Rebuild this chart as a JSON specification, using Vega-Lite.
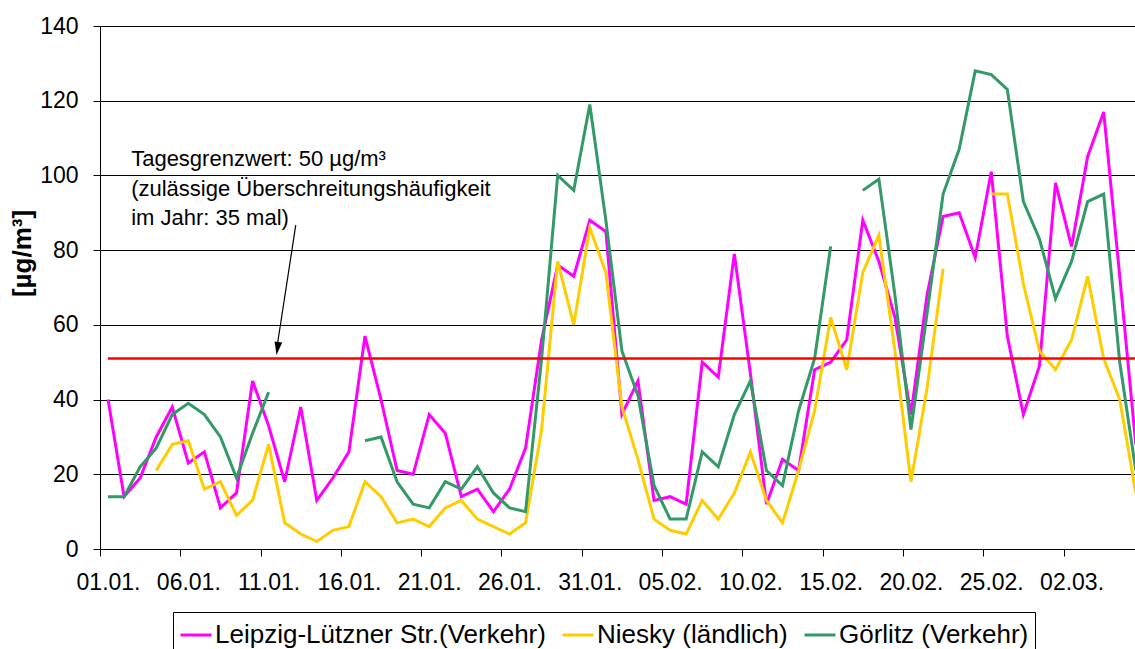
{
  "$schema": "https://vega.github.io/schema/vega-lite/v6.json",
  "width": 1035,
  "height": 523,
  "autosize": {"type": "none"},
  "padding": {"left": 100, "top": 26, "right": 0, "bottom": 100},
  "background": "white",
  "config": {"view": {"stroke": null}, "font": "Liberation Sans"},
  "datasets": {
    "series": [
      {"station": "Leipzig-Lützner Str.(Verkehr)", "day": 0, "value": 40},
      {"station": "Leipzig-Lützner Str.(Verkehr)", "day": 1, "value": 14},
      {"station": "Leipzig-Lützner Str.(Verkehr)", "day": 2, "value": 19},
      {"station": "Leipzig-Lützner Str.(Verkehr)", "day": 3, "value": 30},
      {"station": "Leipzig-Lützner Str.(Verkehr)", "day": 4, "value": 38},
      {"station": "Leipzig-Lützner Str.(Verkehr)", "day": 5, "value": 23},
      {"station": "Leipzig-Lützner Str.(Verkehr)", "day": 6, "value": 26},
      {"station": "Leipzig-Lützner Str.(Verkehr)", "day": 7, "value": 11},
      {"station": "Leipzig-Lützner Str.(Verkehr)", "day": 8, "value": 15},
      {"station": "Leipzig-Lützner Str.(Verkehr)", "day": 9, "value": 45},
      {"station": "Leipzig-Lützner Str.(Verkehr)", "day": 10, "value": 33},
      {"station": "Leipzig-Lützner Str.(Verkehr)", "day": 11, "value": 18},
      {"station": "Leipzig-Lützner Str.(Verkehr)", "day": 12, "value": 38},
      {"station": "Leipzig-Lützner Str.(Verkehr)", "day": 13, "value": 13},
      {"station": "Leipzig-Lützner Str.(Verkehr)", "day": 14, "value": 19},
      {"station": "Leipzig-Lützner Str.(Verkehr)", "day": 15, "value": 26},
      {"station": "Leipzig-Lützner Str.(Verkehr)", "day": 16, "value": 57},
      {"station": "Leipzig-Lützner Str.(Verkehr)", "day": 17, "value": 40},
      {"station": "Leipzig-Lützner Str.(Verkehr)", "day": 18, "value": 21},
      {"station": "Leipzig-Lützner Str.(Verkehr)", "day": 19, "value": 20},
      {"station": "Leipzig-Lützner Str.(Verkehr)", "day": 20, "value": 36},
      {"station": "Leipzig-Lützner Str.(Verkehr)", "day": 21, "value": 31},
      {"station": "Leipzig-Lützner Str.(Verkehr)", "day": 22, "value": 14},
      {"station": "Leipzig-Lützner Str.(Verkehr)", "day": 23, "value": 16},
      {"station": "Leipzig-Lützner Str.(Verkehr)", "day": 24, "value": 10},
      {"station": "Leipzig-Lützner Str.(Verkehr)", "day": 25, "value": 16},
      {"station": "Leipzig-Lützner Str.(Verkehr)", "day": 26, "value": 27},
      {"station": "Leipzig-Lützner Str.(Verkehr)", "day": 27, "value": 56},
      {"station": "Leipzig-Lützner Str.(Verkehr)", "day": 28, "value": 76},
      {"station": "Leipzig-Lützner Str.(Verkehr)", "day": 29, "value": 73},
      {"station": "Leipzig-Lützner Str.(Verkehr)", "day": 30, "value": 88},
      {"station": "Leipzig-Lützner Str.(Verkehr)", "day": 31, "value": 85},
      {"station": "Leipzig-Lützner Str.(Verkehr)", "day": 32, "value": 36},
      {"station": "Leipzig-Lützner Str.(Verkehr)", "day": 33, "value": 45},
      {"station": "Leipzig-Lützner Str.(Verkehr)", "day": 34, "value": 13},
      {"station": "Leipzig-Lützner Str.(Verkehr)", "day": 35, "value": 14},
      {"station": "Leipzig-Lützner Str.(Verkehr)", "day": 36, "value": 12},
      {"station": "Leipzig-Lützner Str.(Verkehr)", "day": 37, "value": 50},
      {"station": "Leipzig-Lützner Str.(Verkehr)", "day": 38, "value": 46},
      {"station": "Leipzig-Lützner Str.(Verkehr)", "day": 39, "value": 79},
      {"station": "Leipzig-Lützner Str.(Verkehr)", "day": 40, "value": 47},
      {"station": "Leipzig-Lützner Str.(Verkehr)", "day": 41, "value": 12},
      {"station": "Leipzig-Lützner Str.(Verkehr)", "day": 42, "value": 24},
      {"station": "Leipzig-Lützner Str.(Verkehr)", "day": 43, "value": 21},
      {"station": "Leipzig-Lützner Str.(Verkehr)", "day": 44, "value": 48},
      {"station": "Leipzig-Lützner Str.(Verkehr)", "day": 45, "value": 50},
      {"station": "Leipzig-Lützner Str.(Verkehr)", "day": 46, "value": 56},
      {"station": "Leipzig-Lützner Str.(Verkehr)", "day": 47, "value": 88},
      {"station": "Leipzig-Lützner Str.(Verkehr)", "day": 48, "value": 77},
      {"station": "Leipzig-Lützner Str.(Verkehr)", "day": 49, "value": 62},
      {"station": "Leipzig-Lützner Str.(Verkehr)", "day": 50, "value": 36},
      {"station": "Leipzig-Lützner Str.(Verkehr)", "day": 51, "value": 68},
      {"station": "Leipzig-Lützner Str.(Verkehr)", "day": 52, "value": 89},
      {"station": "Leipzig-Lützner Str.(Verkehr)", "day": 53, "value": 90},
      {"station": "Leipzig-Lützner Str.(Verkehr)", "day": 54, "value": 78},
      {"station": "Leipzig-Lützner Str.(Verkehr)", "day": 55, "value": 101},
      {"station": "Leipzig-Lützner Str.(Verkehr)", "day": 56, "value": 57},
      {"station": "Leipzig-Lützner Str.(Verkehr)", "day": 57, "value": 36},
      {"station": "Leipzig-Lützner Str.(Verkehr)", "day": 58, "value": 49},
      {"station": "Leipzig-Lützner Str.(Verkehr)", "day": 59, "value": 98},
      {"station": "Leipzig-Lützner Str.(Verkehr)", "day": 60, "value": 81},
      {"station": "Leipzig-Lützner Str.(Verkehr)", "day": 61, "value": 105},
      {"station": "Leipzig-Lützner Str.(Verkehr)", "day": 62, "value": 117},
      {"station": "Leipzig-Lützner Str.(Verkehr)", "day": 63, "value": 73},
      {"station": "Leipzig-Lützner Str.(Verkehr)", "day": 64, "value": 28},
      {"station": "Niesky (ländlich)", "day": 0, "value": null},
      {"station": "Niesky (ländlich)", "day": 1, "value": null},
      {"station": "Niesky (ländlich)", "day": 2, "value": null},
      {"station": "Niesky (ländlich)", "day": 3, "value": 21},
      {"station": "Niesky (ländlich)", "day": 4, "value": 28},
      {"station": "Niesky (ländlich)", "day": 5, "value": 29},
      {"station": "Niesky (ländlich)", "day": 6, "value": 16},
      {"station": "Niesky (ländlich)", "day": 7, "value": 18},
      {"station": "Niesky (ländlich)", "day": 8, "value": 9},
      {"station": "Niesky (ländlich)", "day": 9, "value": 13},
      {"station": "Niesky (ländlich)", "day": 10, "value": 28},
      {"station": "Niesky (ländlich)", "day": 11, "value": 7},
      {"station": "Niesky (ländlich)", "day": 12, "value": 4},
      {"station": "Niesky (ländlich)", "day": 13, "value": 2},
      {"station": "Niesky (ländlich)", "day": 14, "value": 5},
      {"station": "Niesky (ländlich)", "day": 15, "value": 6},
      {"station": "Niesky (ländlich)", "day": 16, "value": 18},
      {"station": "Niesky (ländlich)", "day": 17, "value": 14},
      {"station": "Niesky (ländlich)", "day": 18, "value": 7},
      {"station": "Niesky (ländlich)", "day": 19, "value": 8},
      {"station": "Niesky (ländlich)", "day": 20, "value": 6},
      {"station": "Niesky (ländlich)", "day": 21, "value": 11},
      {"station": "Niesky (ländlich)", "day": 22, "value": 13},
      {"station": "Niesky (ländlich)", "day": 23, "value": 8},
      {"station": "Niesky (ländlich)", "day": 24, "value": 6},
      {"station": "Niesky (ländlich)", "day": 25, "value": 4},
      {"station": "Niesky (ländlich)", "day": 26, "value": 7},
      {"station": "Niesky (ländlich)", "day": 27, "value": 32},
      {"station": "Niesky (ländlich)", "day": 28, "value": 77},
      {"station": "Niesky (ländlich)", "day": 29, "value": 60},
      {"station": "Niesky (ländlich)", "day": 30, "value": 86},
      {"station": "Niesky (ländlich)", "day": 31, "value": 74},
      {"station": "Niesky (ländlich)", "day": 32, "value": 38},
      {"station": "Niesky (ländlich)", "day": 33, "value": 24},
      {"station": "Niesky (ländlich)", "day": 34, "value": 8},
      {"station": "Niesky (ländlich)", "day": 35, "value": 5},
      {"station": "Niesky (ländlich)", "day": 36, "value": 4},
      {"station": "Niesky (ländlich)", "day": 37, "value": 13},
      {"station": "Niesky (ländlich)", "day": 38, "value": 8},
      {"station": "Niesky (ländlich)", "day": 39, "value": 15},
      {"station": "Niesky (ländlich)", "day": 40, "value": 26},
      {"station": "Niesky (ländlich)", "day": 41, "value": 13},
      {"station": "Niesky (ländlich)", "day": 42, "value": 7},
      {"station": "Niesky (ländlich)", "day": 43, "value": 21},
      {"station": "Niesky (ländlich)", "day": 44, "value": 37},
      {"station": "Niesky (ländlich)", "day": 45, "value": 62},
      {"station": "Niesky (ländlich)", "day": 46, "value": 48},
      {"station": "Niesky (ländlich)", "day": 47, "value": 74},
      {"station": "Niesky (ländlich)", "day": 48, "value": 84},
      {"station": "Niesky (ländlich)", "day": 49, "value": 53},
      {"station": "Niesky (ländlich)", "day": 50, "value": 18},
      {"station": "Niesky (ländlich)", "day": 51, "value": 43},
      {"station": "Niesky (ländlich)", "day": 52, "value": 75},
      {"station": "Niesky (ländlich)", "day": 53, "value": null},
      {"station": "Niesky (ländlich)", "day": 54, "value": null},
      {"station": "Niesky (ländlich)", "day": 55, "value": 95},
      {"station": "Niesky (ländlich)", "day": 56, "value": 95},
      {"station": "Niesky (ländlich)", "day": 57, "value": 71},
      {"station": "Niesky (ländlich)", "day": 58, "value": 53},
      {"station": "Niesky (ländlich)", "day": 59, "value": 48},
      {"station": "Niesky (ländlich)", "day": 60, "value": 56},
      {"station": "Niesky (ländlich)", "day": 61, "value": 73},
      {"station": "Niesky (ländlich)", "day": 62, "value": 51},
      {"station": "Niesky (ländlich)", "day": 63, "value": 40},
      {"station": "Niesky (ländlich)", "day": 64, "value": 15},
      {"station": "Görlitz (Verkehr)", "day": 0, "value": 14},
      {"station": "Görlitz (Verkehr)", "day": 1, "value": 14},
      {"station": "Görlitz (Verkehr)", "day": 2, "value": 22},
      {"station": "Görlitz (Verkehr)", "day": 3, "value": 27},
      {"station": "Görlitz (Verkehr)", "day": 4, "value": 36},
      {"station": "Görlitz (Verkehr)", "day": 5, "value": 39},
      {"station": "Görlitz (Verkehr)", "day": 6, "value": 36},
      {"station": "Görlitz (Verkehr)", "day": 7, "value": 30},
      {"station": "Görlitz (Verkehr)", "day": 8, "value": 19},
      {"station": "Görlitz (Verkehr)", "day": 9, "value": 31},
      {"station": "Görlitz (Verkehr)", "day": 10, "value": 42},
      {"station": "Görlitz (Verkehr)", "day": 11, "value": null},
      {"station": "Görlitz (Verkehr)", "day": 12, "value": null},
      {"station": "Görlitz (Verkehr)", "day": 13, "value": null},
      {"station": "Görlitz (Verkehr)", "day": 14, "value": null},
      {"station": "Görlitz (Verkehr)", "day": 15, "value": null},
      {"station": "Görlitz (Verkehr)", "day": 16, "value": 29},
      {"station": "Görlitz (Verkehr)", "day": 17, "value": 30},
      {"station": "Görlitz (Verkehr)", "day": 18, "value": 18},
      {"station": "Görlitz (Verkehr)", "day": 19, "value": 12},
      {"station": "Görlitz (Verkehr)", "day": 20, "value": 11},
      {"station": "Görlitz (Verkehr)", "day": 21, "value": 18},
      {"station": "Görlitz (Verkehr)", "day": 22, "value": 16},
      {"station": "Görlitz (Verkehr)", "day": 23, "value": 22},
      {"station": "Görlitz (Verkehr)", "day": 24, "value": 15},
      {"station": "Görlitz (Verkehr)", "day": 25, "value": 11},
      {"station": "Görlitz (Verkehr)", "day": 26, "value": 10},
      {"station": "Görlitz (Verkehr)", "day": 27, "value": 51},
      {"station": "Görlitz (Verkehr)", "day": 28, "value": 100},
      {"station": "Görlitz (Verkehr)", "day": 29, "value": 96},
      {"station": "Görlitz (Verkehr)", "day": 30, "value": 119},
      {"station": "Görlitz (Verkehr)", "day": 31, "value": 88},
      {"station": "Görlitz (Verkehr)", "day": 32, "value": 53},
      {"station": "Görlitz (Verkehr)", "day": 33, "value": 41},
      {"station": "Görlitz (Verkehr)", "day": 34, "value": 17},
      {"station": "Görlitz (Verkehr)", "day": 35, "value": 8},
      {"station": "Görlitz (Verkehr)", "day": 36, "value": 8},
      {"station": "Görlitz (Verkehr)", "day": 37, "value": 26},
      {"station": "Görlitz (Verkehr)", "day": 38, "value": 22},
      {"station": "Görlitz (Verkehr)", "day": 39, "value": 36},
      {"station": "Görlitz (Verkehr)", "day": 40, "value": 45},
      {"station": "Görlitz (Verkehr)", "day": 41, "value": 21},
      {"station": "Görlitz (Verkehr)", "day": 42, "value": 17},
      {"station": "Görlitz (Verkehr)", "day": 43, "value": 37},
      {"station": "Görlitz (Verkehr)", "day": 44, "value": 51},
      {"station": "Görlitz (Verkehr)", "day": 45, "value": 81},
      {"station": "Görlitz (Verkehr)", "day": 46, "value": null},
      {"station": "Görlitz (Verkehr)", "day": 47, "value": 96},
      {"station": "Görlitz (Verkehr)", "day": 48, "value": 99},
      {"station": "Görlitz (Verkehr)", "day": 49, "value": 68},
      {"station": "Görlitz (Verkehr)", "day": 50, "value": 32},
      {"station": "Görlitz (Verkehr)", "day": 51, "value": 63},
      {"station": "Görlitz (Verkehr)", "day": 52, "value": 95},
      {"station": "Görlitz (Verkehr)", "day": 53, "value": 107},
      {"station": "Görlitz (Verkehr)", "day": 54, "value": 128},
      {"station": "Görlitz (Verkehr)", "day": 55, "value": 127},
      {"station": "Görlitz (Verkehr)", "day": 56, "value": 123},
      {"station": "Görlitz (Verkehr)", "day": 57, "value": 93},
      {"station": "Görlitz (Verkehr)", "day": 58, "value": 83},
      {"station": "Görlitz (Verkehr)", "day": 59, "value": 67},
      {"station": "Görlitz (Verkehr)", "day": 60, "value": 77},
      {"station": "Görlitz (Verkehr)", "day": 61, "value": 93},
      {"station": "Görlitz (Verkehr)", "day": 62, "value": 95},
      {"station": "Görlitz (Verkehr)", "day": 63, "value": 50},
      {"station": "Görlitz (Verkehr)", "day": 64, "value": 21}
    ]
  },
  "layer": [
    {
      "data": {"name": "series"},
      "mark": {"type": "line", "strokeWidth": 3, "invalid": "break-paths-show-domains", "clip": true},
      "encoding": {
        "x": {
          "field": "day", "type": "quantitative",
          "scale": {"domain": [-0.5, 63.95], "nice": false, "zero": false},
          "axis": {
            "values": [0, 5, 10, 15, 20, 25, 30, 35, 40, 45, 50, 55, 60],
            "labelExpr": "timeFormat(datetime(2007, 0, 1 + datum.value), '%d.%m.')",
            "tickOffset": -8.03, "labelOffset": 8.03,
            "labelFlush": false, "labelOverlap": false, "grid": false, "title": null,
            "domainColor": "black", "tickColor": "black", "tickSize": 7,
            "labelFontSize": 23, "labelFont": "Liberation Sans", "labelColor": "black", "labelPadding": 15
          }
        },
        "y": {
          "field": "value", "type": "quantitative",
          "scale": {"domain": [0, 140], "nice": false},
          "axis": {
            "values": [0, 20, 40, 60, 80, 100, 120, 140],
            "title": "[µg/m³]", "titleFontSize": 26, "titleFontWeight": "bold", "titleFont": "Liberation Sans",
            "titleColor": "black", "titleX": -78, "titleY": 227, "titleAngle": -90,
            "titleAlign": "center", "titleBaseline": "middle",
            "grid": true, "gridColor": "black", "gridWidth": 1,
            "domainColor": "black", "tickColor": "black", "tickSize": 7,
            "labelFontSize": 23, "labelFont": "Liberation Sans", "labelColor": "black", "labelPadding": 15
          }
        },
        "color": {
          "field": "station", "type": "nominal",
          "scale": {
            "domain": ["Leipzig-Lützner Str.(Verkehr)", "Niesky (ländlich)", "Görlitz (Verkehr)"],
            "range": ["#FF00FF", "#FFCC00", "#339966"]
          },
          "legend": {
            "orient": "none", "legendX": 73, "legendY": 586, "direction": "horizontal", "title": null,
            "symbolType": "stroke", "symbolSize": 960, "symbolStrokeWidth": 3,
            "labelFontSize": 26, "labelFont": "Liberation Sans", "labelColor": "black", "labelLimit": 0,
            "labelOffset": 2, "columnPadding": 10, "padding": 6,
            "strokeColor": "black", "fillColor": "white"
          }
        }
      }
    },
    {
      "data": {"values": [{"day": 0, "day2": 64, "value": 51}]},
      "mark": {"type": "rule", "color": "#FF0000", "strokeWidth": 2.5, "clip": true},
      "encoding": {
        "x": {"field": "day", "type": "quantitative"},
        "x2": {"field": "day2"},
        "y": {"field": "value", "type": "quantitative"}
      }
    },
    {
      "data": {"values": [{"day": 11.69, "value": 86.7, "day2": 10.52, "value2": 54}]},
      "mark": {"type": "rule", "color": "black", "strokeWidth": 1.2},
      "encoding": {
        "x": {"field": "day", "type": "quantitative"},
        "y": {"field": "value", "type": "quantitative"},
        "x2": {"field": "day2"},
        "y2": {"field": "value2"}
      }
    },
    {
      "data": {"values": [{"day": 10.49, "value": 51.9}]},
      "mark": {"type": "point", "shape": "M0,0L-0.55,-1.9L0.55,-1.9Z", "size": 196, "angle": 8.4, "filled": true, "color": "black", "opacity": 1},
      "encoding": {
        "x": {"field": "day", "type": "quantitative"},
        "y": {"field": "value", "type": "quantitative"}
      }
    },
    {
      "data": {"values": [
        {"day": 1.44, "value": 102.4, "text": "Tagesgrenzwert: 50 µg/m³"},
        {"day": 1.44, "value": 94.6, "text": "(zulässige Überschreitungshäufigkeit"},
        {"day": 1.44, "value": 86.7, "text": "im Jahr: 35 mal)"}
      ]},
      "mark": {"type": "text", "align": "left", "baseline": "alphabetic", "fontSize": 22, "font": "Liberation Sans", "color": "black"},
      "encoding": {
        "x": {"field": "day", "type": "quantitative"},
        "y": {"field": "value", "type": "quantitative"},
        "text": {"field": "text"}
      }
    }
  ]
}
